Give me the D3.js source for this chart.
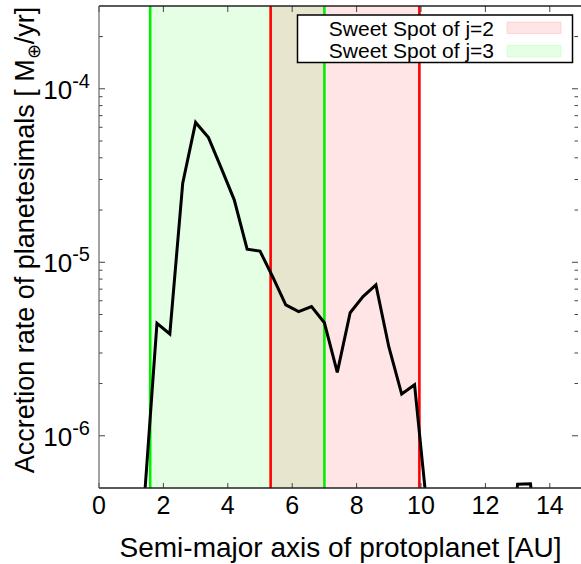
<!DOCTYPE html>
<html lang="en">
<head>
    <meta charset="UTF-8">
    <title>Accretion rate of planetesimals</title>
    <style>
        body { margin: 0; background: #fff; }
        text {
            font-family: 'Liberation Sans', Arial, sans-serif;
            fill: #000;
        }
    </style>
</head>
<body>

<script src="https://d3js.org/d3.v7.min.js"></script>
<script>

    // semi-major axis [AU] and accretion rate [M_earth/yr]; null = not drawn
    const semiMajor = [1.4, 1.8, 2.2, 2.6, 3.0, 3.4, 3.8, 4.2, 4.6, 5.0, 5.4, 5.8, 6.2, 6.6, 7.0,
        7.4, 7.8, 8.2, 8.6, 9.0, 9.4, 9.8, 10.2, 10.6, 11.0, 11.4, 11.8, 12.2, 12.6, 13.0, 13.4, 13.8];
    const accretion = [4.1e-7, 4.45e-6, 3.86e-6, 2.86e-5, 6.4e-5, 5.23e-5, 3.48e-5, 2.29e-5, 1.19e-5,
        1.16e-5, 8.2e-6, 5.68e-6, 5.19e-6, 5.55e-6, 4.48e-6, 2.32e-6, 5.12e-6, 6.34e-6, 7.4e-6,
        3.26e-6, 1.74e-6, 1.97e-6, 3.6e-7, null, null, null, null, null, 1e-7, 5.26e-7, 5.29e-7, 1e-7];

    const sweetJ2 = [5.33, 9.95];
    const sweetJ3 = [1.59, 7.0];
    const legendLabels = ['Sweet Spot of j=2', 'Sweet Spot of j=3'];

    const xTicks = [0, 2, 4, 6, 8, 10, 12, 14];
    const yDecades = [-6, -5, -4];

    const width = 581, height = 564;
    const plot = {'left': 99, 'right': 582, 'top': 6, 'bottom': 488};

    let svg = d3.select('body').append('svg')
        .attr('width', width)
        .attr('height', height);

    let x = d3.scaleLinear().domain([0, 15]).range([plot.left, plot.right]);
    let y = d3.scaleLog().domain([5e-7, 3e-4]).range([plot.bottom, plot.top]);

    svg.append('defs').append('clipPath').attr('id', 'clip')
        .append('rect')
        .attr('x', plot.left).attr('y', plot.top)
        .attr('width', plot.right - plot.left).attr('height', plot.bottom - plot.top);

    // sweet spot bands
    svg.append('rect')
        .attr('x', x(sweetJ3[0])).attr('y', plot.top)
        .attr('width', x(sweetJ3[1]) - x(sweetJ3[0])).attr('height', plot.bottom - plot.top)
        .style('fill', '#00ff00').style('fill-opacity', 0.1);
    svg.append('rect')
        .attr('x', x(sweetJ2[0])).attr('y', plot.top)
        .attr('width', x(sweetJ2[1]) - x(sweetJ2[0])).attr('height', plot.bottom - plot.top)
        .style('fill', '#ff0000').style('fill-opacity', 0.1);

    // band edges
    sweetJ3.forEach(function(d) {
        svg.append('line')
            .attr('x1', x(d)).attr('x2', x(d)).attr('y1', plot.top).attr('y2', plot.bottom)
            .style('stroke', '#00f000').style('stroke-width', 2.6);
    });
    sweetJ2.forEach(function(d) {
        svg.append('line')
            .attr('x1', x(d)).attr('x2', x(d)).attr('y1', plot.top).attr('y2', plot.bottom)
            .style('stroke', '#ff0000').style('stroke-width', 2.6);
    });

    // data line
    let points = semiMajor.map(function(d, i) { return {'a': d, 'v': accretion[i]}; });
    svg.append('path')
        .datum(points)
        .attr('clip-path', 'url(#clip)')
        .style('fill', 'none')
        .style('stroke', '#000')
        .style('stroke-width', 3)
        .style('stroke-linejoin', 'miter')
        .attr('d', d3.line()
            .defined(function(d) { return d.v != null; })
            .x(function(d) { return x(d.a); })
            .y(function(d) { return y(d.v); })
        );

    // ticks
    let ticks = svg.append('g').style('stroke', '#444').style('stroke-width', 1);
    let yTickVals = [];
    yDecades.forEach(function(e) {
        for (let m = 1; m <= 9; m++) {
            let v = m * Math.pow(10, e);
            if (v >= 5e-7 && v <= 3e-4) yTickVals.push({'v': v, 'major': m == 1});
        }
    });
    yTickVals.push({'v': 2e-4, 'major': false});
    yTickVals.forEach(function(t) {
        let len = t.major ? 6 : 3.5;
        ticks.append('line').attr('x1', plot.left).attr('x2', plot.left + len)
            .attr('y1', y(t.v)).attr('y2', y(t.v));
        ticks.append('line').attr('x1', width - 3 - len).attr('x2', width - 3)
            .attr('y1', y(t.v)).attr('y2', y(t.v));
    });
    xTicks.forEach(function(t) {
        ticks.append('line').attr('x1', x(t)).attr('x2', x(t))
            .attr('y1', plot.bottom).attr('y2', plot.bottom - 5);
        ticks.append('line').attr('x1', x(t)).attr('x2', x(t))
            .attr('y1', plot.top).attr('y2', plot.top + 6);
    });

    // border
    let border = svg.append('g').style('stroke', '#222').style('stroke-width', 1.6);
    border.append('line').attr('x1', plot.left).attr('x2', plot.right)
        .attr('y1', plot.bottom).attr('y2', plot.bottom);
    border.append('line').attr('x1', plot.left).attr('x2', plot.right)
        .attr('y1', plot.top).attr('y2', plot.top);
    border.append('line').attr('x1', plot.left).attr('x2', plot.left)
        .attr('y1', plot.top).attr('y2', plot.bottom)
        .style('stroke', '#666').style('stroke-width', 1.2);

    // x tick labels
    svg.selectAll('.xlab')
        .data(xTicks)
        .enter().append('text')
        .attr('x', function(d) { return x(d); })
        .attr('y', 514)
        .attr('text-anchor', 'middle')
        .style('font-size', '25px')
        .text(function(d) { return d; });

    // y tick labels 10^e
    yDecades.forEach(function(e) {
        let t = svg.append('text')
            .attr('x', 90)
            .attr('y', y(Math.pow(10, e)) + 10)
            .attr('text-anchor', 'end')
            .style('font-size', '26px');
        t.append('tspan').text('10');
        t.append('tspan').attr('dy', -11).style('font-size', '20px').text('-' + Math.abs(e));
    });

    // axis titles
    svg.append('text')
        .attr('x', (plot.left + plot.right) / 2)
        .attr('y', 557)
        .attr('text-anchor', 'middle')
        .style('font-size', '28px')
        .text('Semi-major axis of protoplanet [AU]');

    let ytitle = svg.append('text')
        .attr('transform', 'translate(34,' + 240 + ') rotate(-90)')
        .attr('text-anchor', 'middle')
        .style('font-size', '27px');
    ytitle.append('tspan').text('Accretion rate of planetesimals [ M');
    ytitle.append('tspan').attr('dy', 6).style('font-size', '18px').text('\u2295');
    ytitle.append('tspan').attr('dy', -6).text('/yr]');

    // legend
    let legend = svg.append('g');
    legend.append('rect')
        .attr('x', 297.5).attr('y', 15)
        .attr('width', 275).attr('height', 47.5)
        .style('fill', '#fff').style('stroke', '#000').style('stroke-width', 1.5);
    const legendFill = ['#ff0000', '#00ff00'];
    legendLabels.forEach(function(d, i) {
        legend.append('text')
            .attr('x', 494).attr('y', 36 + i * 21.5)
            .attr('text-anchor', 'end')
            .style('font-size', '21px')
            .text(d);
        legend.append('rect')
            .attr('x', 507).attr('y', 22 + i * 23.3)
            .attr('width', 54).attr('height', 11.5)
            .style('fill', legendFill[i]).style('fill-opacity', 0.1)
            .style('stroke', legendFill[i]).style('stroke-opacity', 0.12);
    });

</script>

</body>
</html>
